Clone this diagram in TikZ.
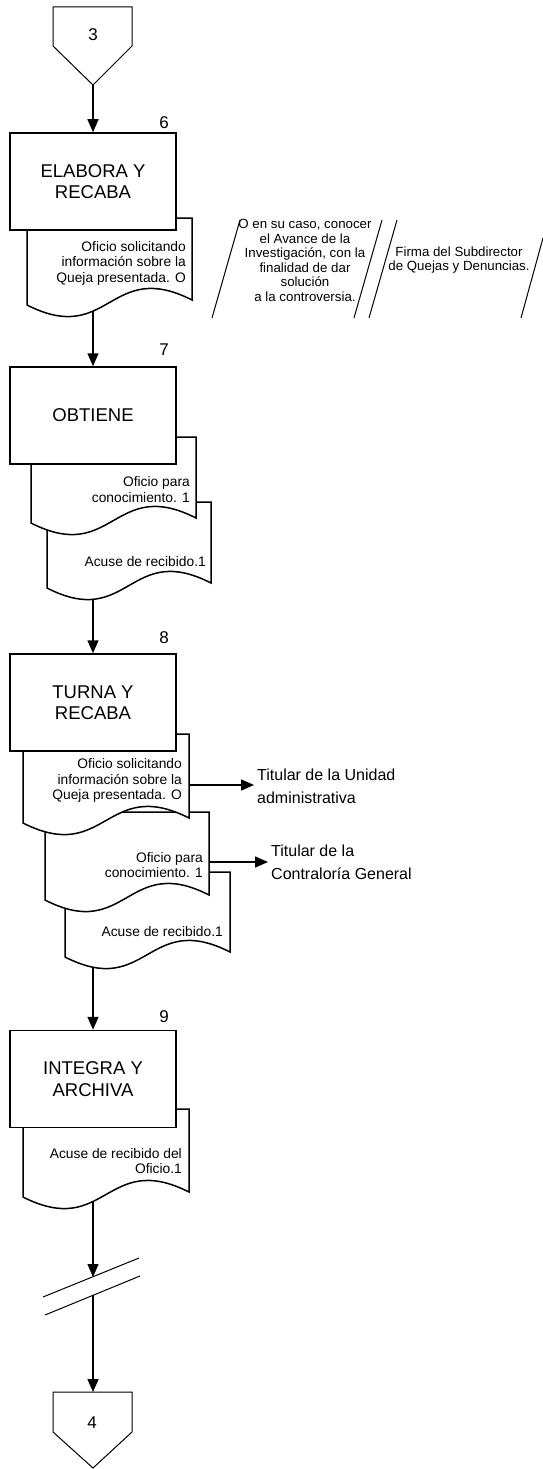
\documentclass[tikz,border=0pt]{standalone}
\usepackage{fontspec}
\setmainfont{Liberation Sans}
\usetikzlibrary{arrows.meta}

% document symbol: x0, x1, top, left end of the wavy bottom
\newcommand{\docshape}[4]{%
  \path[docline] (#1,#3) -- (#2,#3) -- (#2,#4-5)
    .. controls ({(#1+#2)/2},#4-47) and ({(#1+#2)/2},#4+42) .. (#1,#4) -- cycle;}

\begin{document}
\begin{tikzpicture}[x=1pt,y=-1pt,
  box/.style={draw, line width=1.5pt, fill=white, minimum width=166pt,
    minimum height=97pt, inner sep=0pt, align=center,
    font=\fontsize{18.5}{21.5}\selectfont},
  docline/.style={draw, line width=1.5pt, fill=white},
  doctext/.style={anchor=east, align=right, inner sep=0pt,
    font=\fontsize{13.8}{15.5}\selectfont},
  paratext/.style={align=center, inner sep=0pt,
    font=\fontsize{13.3}{14.6}\selectfont},
  num/.style={inner sep=0pt, font=\fontsize{17}{20}\selectfont},
  outtext/.style={anchor=west, align=left, inner sep=3pt,
    font=\fontsize{16}{23}\selectfont},
  flow/.style={line width=1.5pt, -{Triangle[length=13pt,width=11pt]}},
  thin/.style={line width=1pt},
  pentagon/.style={draw, line width=1pt, fill=white}
]
\useasboundingbox (0,0) rectangle (543,1469);

% off-page connector 3
\path[pentagon] (53,7) -- (132,7) -- (132,46) -- (93,85) -- (53,46) -- cycle;
\node[num] (c3) at (93,35) {3};
\coordinate (c3tip) at (93,85);

% step 6
\docshape{27}{192}{218}{305}
\node[doctext] (d1) at (186,263) {Oficio solicitando\\información sobre la\\Queja presentada. O};
\node[box] (b6) at (93,181.5) {ELABORA Y\\RECABA};
\node[num] (n6) at (164,123) {6};
\coordinate (d1b) at (93,311);

% annotations in parallelograms
\draw[thin] (240,220) -- (212,318);
\draw[thin] (382,220) -- (354,318);
\draw[thin] (397,220) -- (369,318);
\draw[thin] (543,238) -- (521,318);
\node[paratext] (p1) at (305,260.5) {O en su caso, conocer\\el Avance de la\\Investigación, con la\\finalidad de dar\\solución\\ a la controversia.};
\node[paratext] (p2) at (459,260) {Firma del Subdirector\\de Quejas y Denuncias.};

% step 7
\docshape{47}{211}{502}{588}
\node[doctext] (d3) at (206,562) {Acuse de recibido.1};
\docshape{31}{196}{437}{523}
\node[doctext] (d2) at (190,489.5) {Oficio para\\conocimiento. 1};
\node[box] (b7) at (93,415.5) {OBTIENE};
\node[num] (n7) at (164,350) {7};
\coordinate (d3b) at (93,599);

% step 8
\docshape{65}{230}{872}{957}
\node[doctext] (d6) at (223,932) {Acuse de recibido.1};
\docshape{45}{209}{812}{900}
\node[doctext] (d5) at (203,865) {Oficio para\\conocimiento. 1};
\docshape{23}{189}{734}{823}
\node[doctext] (d4) at (182,780.5) {Oficio solicitando\\información sobre la\\Queja presentada. O};
\node[box] (b8) at (93,702.5) {TURNA Y\\RECABA};
\node[num] (n8) at (164,638) {8};
\coordinate (d4r) at (189,785);
\coordinate (d5r) at (209,862);
\coordinate (d6b) at (93,967);
\node[outtext] (t1) at (254,786) {Titular de la Unidad\\administrativa};
\node[outtext] (t2) at (268,862) {Titular de la\\Contraloría General};

% step 9
\docshape{23}{189}{1109}{1197}
\node[doctext] (d7) at (182,1161) {Acuse de recibido del\\Oficio.1};
\node[box] (b9) at (93,1079) {INTEGRA Y\\ARCHIVA};
\node[num] (n9) at (164,1017) {9};
\coordinate (d7b) at (93,1202);

% break in the flow line
\coordinate (brA1) at (43,1297);
\coordinate (brA2) at (139,1258);
\coordinate (brB1) at (45,1315);
\coordinate (brB2) at (140,1276);
\draw[thin] (brA1) -- (brA2);
\draw[thin] (brB1) -- (brB2);
\coordinate (brin) at (93,1277);
\coordinate (brout) at (93,1295);

% off-page connector 4
\path[pentagon] (53,1392) -- (132,1392) -- (132,1432) -- (93,1468) -- (53,1432) -- cycle;
\node[num] (c4) at (92,1423) {4};
\coordinate (c4top) at (93,1392);

% flow lines
\draw[flow] (c3tip) -- (b6.north);
\draw[flow] (d1b) -- (b7.north);
\draw[flow] (d3b) -- (b8.north);
\draw[flow] (d6b) -- (b9.north);
\draw[flow] (d7b) -- (brin);
\draw[flow] (brout) -- (c4top);
\draw[flow] (d4r) -- (d4r -| t1.west);
\draw[flow] (d5r) -- (d5r -| t2.west);
\end{tikzpicture}
\end{document}
